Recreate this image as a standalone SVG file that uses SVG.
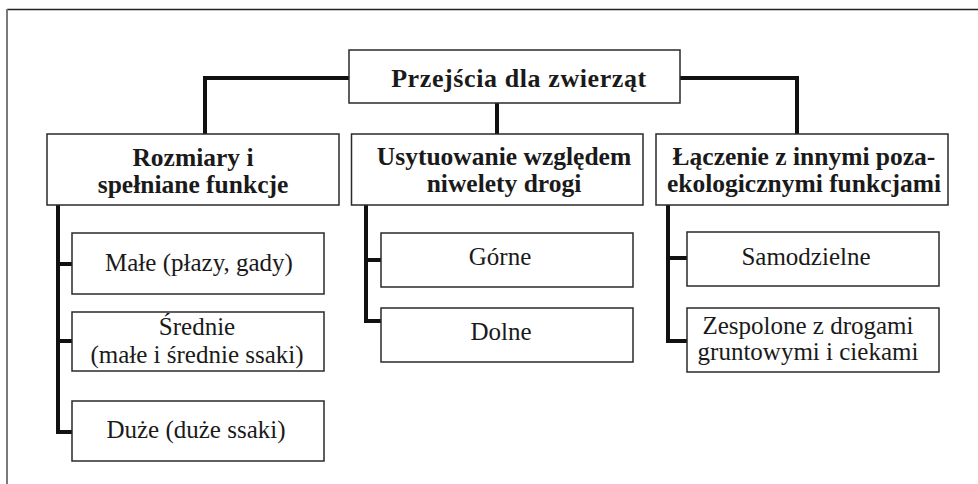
<svg xmlns="http://www.w3.org/2000/svg" width="978" height="484" viewBox="0 0 978 484">
<style>
.box{fill:#fff;stroke:#2a2a2a;stroke-width:1.5}
.b{font-family:"Liberation Serif","Times New Roman",serif;font-weight:bold;font-size:25.5px;fill:#1a1a1a;text-anchor:middle}
.r{font-family:"Liberation Serif","Times New Roman",serif;font-size:25px;fill:#1a1a1a;text-anchor:middle}
.con{fill:none;stroke:#111;stroke-width:4;stroke-linejoin:miter;stroke-linecap:butt}
</style>
<rect x="0" y="0" width="978" height="484" fill="#fff"/>
<line x1="7" y1="9.5" x2="978" y2="9.5" stroke="#222" stroke-width="1.5"/>
<line x1="7" y1="9" x2="7" y2="484" stroke="#7a7a7a" stroke-width="2"/>
<g id="connectors">
<path class="con" d="M349,78 H205 V134"/>
<path class="con" d="M497,103 V134"/>
<path class="con" d="M680,78 H797 V134"/>
<path class="con" d="M58,205 V432 H72"/>
<path class="con" d="M58,264 H72"/>
<path class="con" d="M58,341 H72"/>
<path class="con" d="M366,205 V321 H381"/>
<path class="con" d="M366,260 H381"/>
<path class="con" d="M668,205 V341 H687"/>
<path class="con" d="M668,258 H687"/>
</g>
<g id="root">
<rect class="box" x="349" y="50" width="331" height="53"/>
<text class="b" x="519" y="87" style="font-size:26px;letter-spacing:0.6px">Przejścia dla zwierząt</text>
</g>
<g id="rozmiary">
<rect class="box" x="47" y="134" width="292" height="71"/>
<text class="b" x="193" y="166">Rozmiary i</text>
<text class="b" x="193" y="193">spełniane funkcje</text>
</g>
<g id="usytuowanie">
<rect class="box" x="351.5" y="134" width="291.5" height="71"/>
<text class="b" x="504" y="165">Usytuowanie względem</text>
<text class="b" x="504" y="192">niwelety drogi</text>
</g>
<g id="laczenie">
<rect class="box" x="656" y="134" width="292" height="71"/>
<text class="b" x="804" y="165">Łączenie z innymi poza-</text>
<text class="b" x="804" y="192">ekologicznymi funkcjami</text>
</g>
<g id="male">
<rect class="box" x="72" y="233" width="252" height="61"/>
<text class="r" x="199" y="271">Małe (płazy, gady)</text>
</g>
<g id="srednie">
<rect class="box" x="72" y="312" width="252" height="59"/>
<text class="r" x="197" y="335">Średnie</text>
<text class="r" x="197" y="363">(małe i średnie ssaki)</text>
</g>
<g id="duze">
<rect class="box" x="72" y="401" width="252" height="60"/>
<text class="r" x="196" y="438">Duże (duże ssaki)</text>
</g>
<g id="gorne">
<rect class="box" x="381" y="233" width="252" height="54"/>
<text class="r" x="500" y="265">Górne</text>
</g>
<g id="dolne">
<rect class="box" x="381" y="308" width="252" height="54"/>
<text class="r" x="501" y="340">Dolne</text>
</g>
<g id="samodzielne">
<rect class="box" x="687" y="232" width="252" height="54"/>
<text class="r" x="806" y="265">Samodzielne</text>
</g>
<g id="zespolone">
<rect class="box" x="687" y="308" width="252" height="64"/>
<text class="r" x="808" y="334">Zespolone z drogami</text>
<text class="r" x="808" y="360">gruntowymi i ciekami</text>
</g>
</svg>
